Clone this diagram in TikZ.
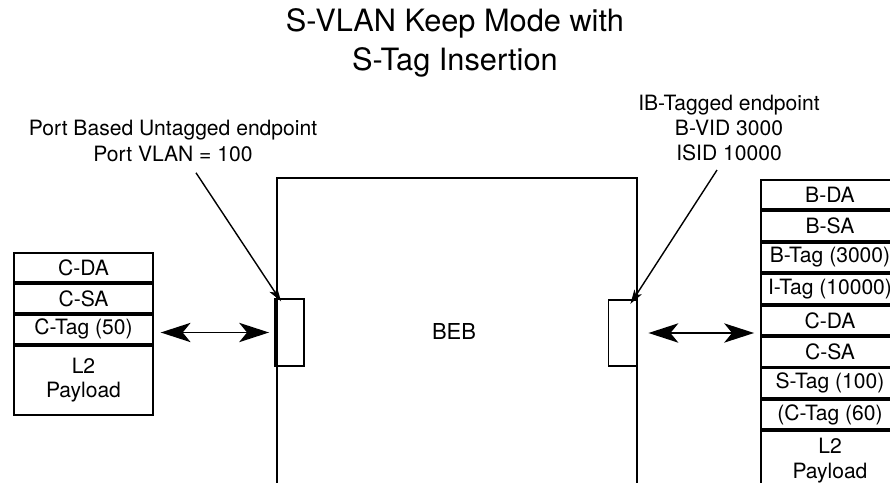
\documentclass[tikz,border=0pt]{standalone}
\usepackage{fontspec}
\setmainfont{TeX Gyre Heros}
\usetikzlibrary{arrows.meta}

\tikzset{
  campo/.style={draw, line width=1.1pt, minimum height=0.58cm, inner sep=0pt,
    anchor=north, font=\fontsize{12}{14}\selectfont},
  campoizq/.style={campo, minimum width=2.77cm},
  campoder/.style={campo, minimum width=2.76cm, minimum height=0.59cm},
  carga/.style={align=center, font=\fontsize{12}{14}\selectfont},
  puerto/.style={draw, line width=1.1pt, minimum width=0.58cm, minimum height=1.33cm, inner sep=0pt},
  nota/.style={align=center, font=\fontsize{12}{14.5}\selectfont},
  flechanota/.style={line width=0.8pt, -{Stealth[length=8pt, width=5pt, inset=2pt]}},
  flechadoble/.style={line width=0.9pt, {Stealth[length=17pt, width=11pt, inset=4.5pt]}-{Stealth[length=17pt, width=11pt, inset=4.5pt]}}
}

\begin{document}
\begin{tikzpicture}[x=0.02cm, y=-0.02cm]
  % Marco de la imagen
  \clip (0,0) rectangle (890,483);

  % Titulo
  \node[align=center, font=\fontsize{17.5}{22}\selectfont] (titulo) at (455,43)
    {S-VLAN Keep Mode with\\S-Tag Insertion};

  % Puente BEB con sus dos puertos
  \draw[line width=1.1pt] (277,178) rectangle (637,500);
  \node[font=\fontsize{12.5}{14}\selectfont] (beb) at (454,331) {BEB};
  \node[puerto] (pizq) at (289.5,332.5) {};
  \node[puerto] (pder) at (623,333) {};

  % Trama del lado del cliente
  \node[campoizq] (izq1) at (83.5,252) {C-DA};
  \node[campoizq] (izq2) at (izq1.south) {C-SA};
  \node[campoizq] (izq3) at (izq2.south) {C-Tag (50)};
  \node[campoizq, minimum height=1.38cm, carga] (izq4) at (izq3.south) {L2\\Payload};

  % Trama del lado del backbone
  \node[campoder] (der1) at (830,179) {B-DA};
  \node[campoder] (der2) at (der1.south) {B-SA};
  \node[campoder] (der3) at (der2.south) {B-Tag (3000)};
  \node[campoder] (der4) at (der3.south) {I-Tag (10000)};
  \node[campoder] (der5) at (der4.south) {C-DA};
  \node[campoder] (der6) at (der5.south) {C-SA};
  \node[campoder] (der7) at (der6.south) {S-Tag (100)};
  \node[campoder] (der8) at (der7.south) {(C-Tag (60)};
  \node[campoder, minimum height=1.5cm] (der9) at (der8.south) {};
  \node[carga] (der9txt) at ([yshift=-0.6cm]der8.south) {L2\\Payload};

  % Notas de los extremos
  \node[nota] (notaizq) at (173,141) {Port Based Untagged endpoint\\Port VLAN = 100};
  \node[nota] (notader) at (729,128) {IB-Tagged endpoint\\B-VID 3000\\ISID 10000};
  \draw[flechanota] ([xshift=0.46cm, yshift=-0.1cm]notaizq.south) -- ([shift={(7,3)}]pizq.north west);
  \draw[flechanota] ([xshift=-0.24cm, yshift=-0.05cm]notader.south) -- ([shift={(-8,5)}]pder.north east);

  % Flechas entre tramas y puertos
  \draw[flechadoble] ([xshift=0.14cm]izq3.east |- pizq.west) -- ([xshift=-0.1cm]pizq.west);
  \draw[flechadoble] ([xshift=0.2cm]pder.east) -- ([xshift=-0.12cm]der5.west |- pder.east);
\end{tikzpicture}
\end{document}
